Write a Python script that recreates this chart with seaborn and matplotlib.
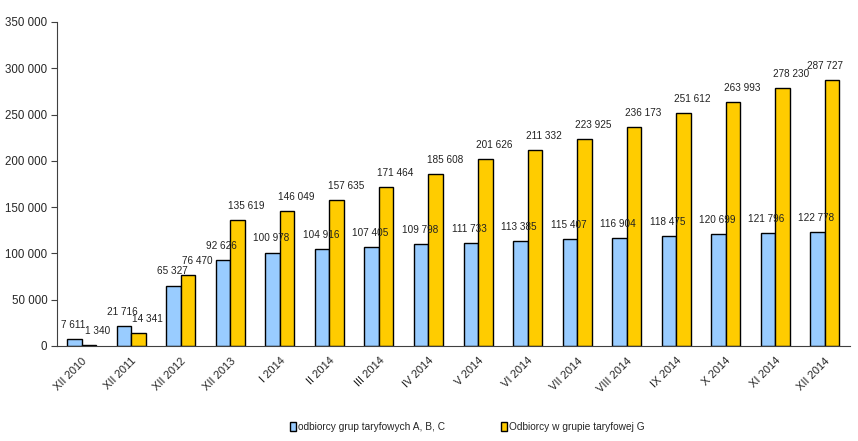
import matplotlib
matplotlib.use("Agg")
import matplotlib.pyplot as plt
import seaborn as sns
import pandas as pd
from matplotlib.ticker import FuncFormatter, FixedLocator
from matplotlib.patches import Patch

categories = ["XII 2010", "XII 2011", "XII 2012", "XII 2013", "I 2014", "II 2014", "III 2014",
              "IV 2014", "V 2014", "VI 2014", "VII 2014", "VIII 2014", "IX 2014", "X 2014",
              "XI 2014", "XII 2014"]
abc_values = [7611, 21716, 65327, 92626, 100978, 104916, 107405, 109798, 111733, 113385,
              115407, 116904, 118475, 120699, 121796, 122778]
g_values = [1340, 14341, 76470, 135619, 146049, 157635, 171464, 185608, 201626, 211332,
            223925, 236173, 251612, 263993, 278230, 287727]
series_names = ["odbiorcy grup taryfowych A, B, C", "Odbiorcy w grupie taryfowej G"]
colors = ["#99CCFF", "#FFCC00"]

df = pd.DataFrame({
    "cat": categories * 2,
    "val": abc_values + g_values,
    "series": [series_names[0]] * len(categories) + [series_names[1]] * len(categories),
})

sns.set_style("white")
plt.rcParams["font.family"] = ["Liberation Sans", "DejaVu Sans"]

fig = plt.figure(figsize=(8.58, 4.41), dpi=100)
ax = fig.add_axes([57 / 858, 95 / 441, 792.5 / 858, 324 / 441])

sns.barplot(data=df, x="cat", y="val", hue="series", palette=colors, width=0.585,
            edgecolor="black", linewidth=1.0, ax=ax, legend=False, saturation=1)

ax.set_ylim(0, 350000)
ax.set_xlim(-0.5, len(categories) - 0.5)
ax.yaxis.set_major_locator(FixedLocator(range(0, 350001, 50000)))
ax.yaxis.set_major_formatter(FuncFormatter(lambda v, p: f"{int(v):,}".replace(",", " ")))
ax.set_xlabel("")
ax.set_ylabel("")

ax.set_xticks(range(len(categories)))
ax.set_xticklabels(categories, rotation=45, ha="right", rotation_mode="anchor", fontsize=8)
ax.tick_params(axis="x", length=0, pad=7)
ax.set_xticks([i - 0.5 for i in range(len(categories) + 1)], minor=True)
ax.tick_params(axis="x", which="minor", length=4, direction="out", color="#404040", width=0.8)
ax.tick_params(axis="y", length=4, direction="out", labelsize=8.3, color="#404040", width=0.8,
               left=True, pad=3)

for s in ["top", "right"]:
    ax.spines[s].set_visible(False)
for s in ["left", "bottom"]:
    ax.spines[s].set_color("#404040")
    ax.spines[s].set_linewidth(0.8)

n = len(categories)
for ci, cont in enumerate(ax.containers):
    for i, bar in enumerate(cont):
        h = bar.get_height()
        if ci == 0:
            dx = -1
        else:
            dx = 6.5 if i < n - 1 else -5
        ax.annotate(f"{int(h):,}".replace(",", " "),
                    (bar.get_x() + bar.get_width() / 2, h),
                    xytext=(dx, 6.5), textcoords="offset points",
                    ha="center", va="bottom", fontsize=7.2, color="#222222")

handles = [Patch(facecolor=c, edgecolor="black", linewidth=1.0) for c in colors]
fig.legend(handles, series_names, loc="center", bbox_to_anchor=(0.545, 0.032), ncol=2,
           frameon=False, fontsize=7.3, handlelength=0.6, handleheight=0.9,
           handletextpad=0.2, columnspacing=5.5)

fig.savefig("out.png", dpi=100)
